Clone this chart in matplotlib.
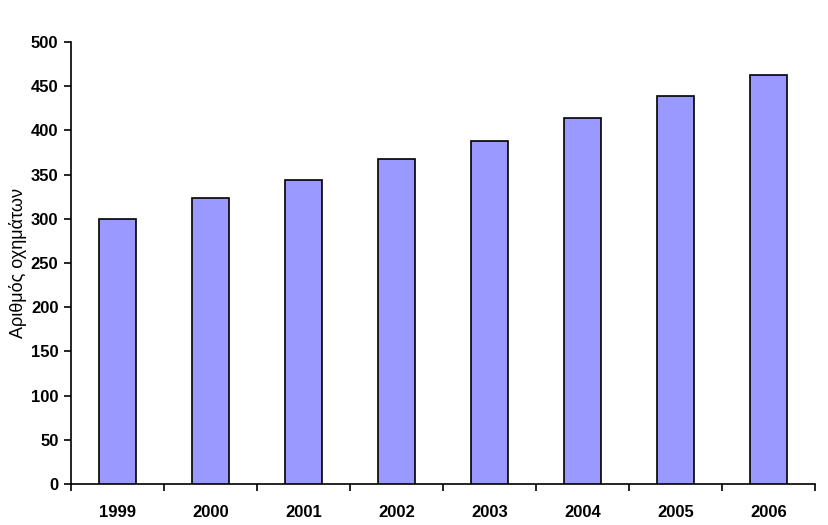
import matplotlib
matplotlib.use("Agg")
import matplotlib.pyplot as plt

years = ["1999", "2000", "2001", "2002", "2003", "2004", "2005", "2006"]
vehicles = [300, 323, 344, 368, 388, 414, 439, 463]
yticks = [0, 50, 100, 150, 200, 250, 300, 350, 400, 450, 500]

plt.rcParams['font.family'] = ['Liberation Sans', 'DejaVu Sans']

fig = plt.figure(figsize=(8.29, 5.25), dpi=100)
ax = fig.add_axes([71/829, 41/525, (815-71)/829, (484-42)/525])

x = list(range(len(years)))
ax.bar(x, vehicles, width=0.40, color='#9999FF', edgecolor='black', linewidth=1.2, zorder=3)

ax.set_xlim(-0.5, len(years) - 0.5)
ax.set_ylim(0, 500)
ax.set_yticks(yticks)
ax.set_yticklabels([str(v) for v in yticks], fontsize=12, fontweight='bold')

ax.set_xticks([i - 0.5 for i in range(len(years) + 1)])
ax.set_xticklabels([])
ax.set_xticks(x, minor=True)
ax.set_xticklabels(years, minor=True, fontsize=12, fontweight='bold')
ax.tick_params(axis='x', which='minor', length=0, pad=15)
ax.tick_params(axis='x', which='major', length=5, width=1.2, direction='out')
ax.tick_params(axis='y', length=5, width=1.2, direction='out', pad=4)

ax.spines['top'].set_visible(False)
ax.spines['right'].set_visible(False)
ax.spines['left'].set_linewidth(1.2)
ax.spines['bottom'].set_linewidth(1.2)

ax.set_ylabel("Αριθμός οχημάτων", fontsize=13, labelpad=3)

fig.savefig("out.png", dpi=100)
